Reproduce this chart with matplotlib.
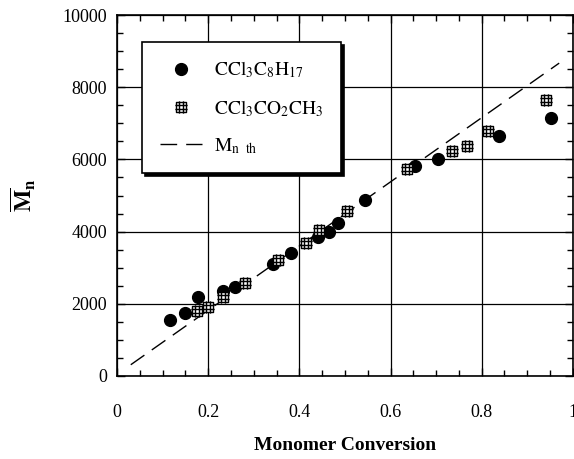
import matplotlib
matplotlib.use("Agg")
import matplotlib.pyplot as plt
from matplotlib.path import Path
from matplotlib.ticker import MultipleLocator

plt.rcParams['font.family'] = ['Liberation Serif', 'DejaVu Serif']
plt.rcParams['mathtext.fontset'] = 'stix'

# CCl3C8H17 series
conv_a = [0.116, 0.150, 0.177, 0.232, 0.259, 0.341, 0.381, 0.440, 0.464, 0.484,
          0.545, 0.654, 0.704, 0.838, 0.952]
mn_a = [1550, 1755, 2180, 2360, 2470, 3100, 3420, 3840, 3980, 4250,
        4880, 5830, 6000, 6650, 7150]

# CCl3CO2CH3 series
conv_b = [0.175, 0.200, 0.232, 0.281, 0.352, 0.414, 0.442, 0.505,
          0.636, 0.735, 0.767, 0.814, 0.941]
mn_b = [1810, 1920, 2180, 2570, 3210, 3690, 4040, 4580,
        5730, 6240, 6380, 6790, 7650]

# theoretical Mn
conv_th = [0.03, 0.97]
mn_th = [310, 8670]

x_ticks = [0, 0.2, 0.4, 0.6, 0.8, 1.0]
x_labels = ['0', '0.2', '0.4', '0.6', '0.8', '1']
y_ticks = [0, 2000, 4000, 6000, 8000, 10000]
y_labels = ['0', '2000', '4000', '6000', '8000', '10000']

# square marker with inner grid lines
verts = [(-1, -1), (1, -1), (1, 1), (-1, 1), (-1, -1),
         (-0.33, -1.15), (-0.33, 1.15), (0.33, -1.15), (0.33, 1.15),
         (-1.15, -0.33), (1.15, -0.33), (-1.15, 0.33), (1.15, 0.33)]
codes = [Path.MOVETO, Path.LINETO, Path.LINETO, Path.LINETO, Path.CLOSEPOLY,
         Path.MOVETO, Path.LINETO, Path.MOVETO, Path.LINETO,
         Path.MOVETO, Path.LINETO, Path.MOVETO, Path.LINETO]
grid_square = Path(verts, codes)

fig = plt.figure(figsize=(5.74, 4.59), dpi=100)
ax = fig.add_axes([0.204, 0.181, 0.794, 0.786])

ax.plot(conv_th, mn_th, color='black', lw=1.0, dashes=(12, 6.5), zorder=2,
        label=r'$\mathrm{M_{n\ \ th}}$')
ax.plot(conv_a, mn_a, 'o', color='black', ms=8.5, zorder=3,
        label=r'$\mathrm{CCl_3C_8H_{17}}$')
ax.plot(conv_b, mn_b, ls='none', marker=grid_square, ms=8, mfc='white',
        mec='black', mew=1.0, zorder=4, label=r'$\mathrm{CCl_3CO_2CH_3}$')

ax.set_xlim(0, 1)
ax.set_ylim(0, 10000)
ax.set_xticks(x_ticks, x_labels)
ax.set_yticks(y_ticks, y_labels)
ax.xaxis.set_minor_locator(MultipleLocator(0.05))
ax.yaxis.set_minor_locator(MultipleLocator(500))
ax.grid(True, which='major', color='black', lw=0.9)
ax.set_axisbelow(True)
for s in ax.spines.values():
    s.set_linewidth(1.2)
ax.tick_params(which='both', direction='in', top=True, right=True, width=1.0)
ax.tick_params(which='major', length=6, labelsize=13)
ax.tick_params(axis='x', which='major', pad=20)
ax.tick_params(axis='y', which='major', pad=7)
ax.tick_params(which='minor', length=4)

ax.set_xlabel('Monomer Conversion', fontsize=14, fontweight='bold', labelpad=12)
ax.set_ylabel(r'$\overline{\mathbf{M}}_{\mathbf{n}}$', fontsize=17, labelpad=18)

h, l = ax.get_legend_handles_labels()
leg = ax.legend([h[1], h[2], h[0]], [l[1], l[2], l[0]], loc='upper left',
                bbox_to_anchor=(0.055, 0.925), borderaxespad=0, fancybox=False,
                edgecolor='black', framealpha=1, fontsize=14,
                shadow={'color': 'black', 'alpha': 1},
                handlelength=2.2, labelspacing=0.9, borderpad=0.9,
                handletextpad=0.6)
leg.get_frame().set_linewidth(1.2)

fig.savefig('out.png', dpi=100)
